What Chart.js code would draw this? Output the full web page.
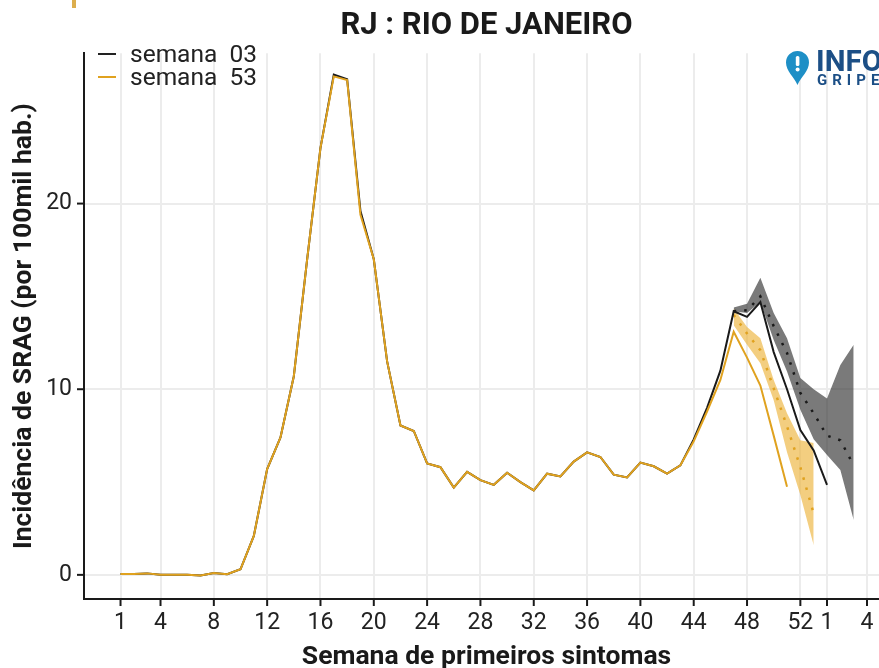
<!DOCTYPE html>
<html lang="pt-BR">
<head>
<meta charset="utf-8">
<title>RJ : RIO DE JANEIRO</title>
<script src="https://cdn.jsdelivr.net/npm/chart.js@4/dist/chart.umd.min.js"></script>
<style>
  html, body { margin: 0; padding: 0; background: #fff; overflow: hidden; width: 879px; height: 668px; }
  #wrap { position: relative; width: 879px; height: 668px; overflow: hidden; font-family: Roboto, sans-serif; }
  #myChart { position: absolute; left: 0; top: 0; }
  .leg-line { position: absolute; left: 98px; width: 18px; height: 2px; }
  .leg-text { position: absolute; left: 130px; font-size: 24.5px; line-height: 24px; color: #222; white-space: pre; }
  #pin { position: absolute; left: 785px; top: 50px; }
  #info { position: absolute; left: 816px; top: 44px; font-size: 29.5px; line-height: 34px; font-weight: 700; color: #1c4f86; white-space: nowrap; }
  #gripe { position: absolute; left: 817px; top: 72px; font-size: 15px; line-height: 16px; font-weight: 700; letter-spacing: 5px; color: #1c4f86; white-space: nowrap; }
  #topmark { position: absolute; left: 72px; top: 0; width: 4px; height: 8px; background: #dcae4e; }
</style>
</head>
<body>
<div id="wrap">
  <canvas id="myChart" width="889" height="668"></canvas>
  <div id="topmark"></div>
  <div class="leg-line" style="top:53px;background:#222"></div>
  <div class="leg-text" style="top:42px">semana  03</div>
  <div class="leg-line" style="top:76px;background:#e0a21f"></div>
  <div class="leg-text" style="top:65px">semana  53</div>
  <svg id="pin" width="25" height="36" viewBox="0 0 25 36">
    <path d="M12.5 35 C9 27 1 21 1 12.5 A11.5 11.5 0 0 1 24 12.5 C24 21 16 27 12.5 35 Z" fill="#1e8fc6"/>
    <rect x="10.8" y="6" width="3.6" height="10" rx="1.5" fill="#fff"/>
    <circle cx="12.6" cy="19.5" r="2" fill="#fff"/>
  </svg>
  <div id="info">INFO</div>
  <div id="gripe">GRIPE</div>
</div>
<script>
// semanas (53 = ultima de 2020, 54 em diante = 2021)
const weeks = [1,2,3,4,5,6,7,8,9,10,11,12,13,14,15,16,17,18,19,20,21,22,23,24,25,26,27,28,29,30,31,32,33,34,35,36,37,38,39,40,41,42,43,44,45,46,47,48,49,50,51,52,53,54,55,56];
const tickWeeks = [1,4,8,12,16,20,24,28,32,36,40,44,48,52,54,57];
const tickLabels = ['1','4','8','12','16','20','24','28','32','36','40','44','48','52','1','4'];
const yTicks = [0,10,20];

const semana03 = [0.05,0.05,0.08,0,0,0,-0.03,0.1,0.03,0.3,2.1,5.7,7.4,10.7,17,23,26.95,26.7,19.6,17,11.5,8.05,7.75,6,5.8,4.7,5.55,5.1,4.85,5.5,5,4.55,5.45,5.3,6.1,6.6,6.35,5.4,5.25,6.05,5.85,5.45,5.9,7.3,9,11,14.2,13.9,14.7,12,10,7.8,6.7,4.85];
const semana53 = [0.05,0.05,0.08,0,0,0,-0.03,0.1,0.03,0.3,2.1,5.7,7.4,10.7,17,23,26.85,26.65,19.4,17,11.5,8.05,7.75,6,5.8,4.7,5.55,5.1,4.85,5.5,5,4.55,5.45,5.3,6.1,6.6,6.35,5.4,5.25,6.05,5.85,5.45,5.9,7.2,8.8,10.5,13.1,11.7,10.2,7.5,4.75];

// previsao (nowcasting), comeca na semana 47
const nowWeeks03 = [47,48,49,50,51,52,53,54,55,56];
const now03 = [14.2,14.25,15,13.4,11.95,9.8,8.7,7.5,7.25,5.9];
const now03Upper = [14.4,14.6,16,14.1,12.75,10.6,10,9.5,11.3,12.4];
const now03Lower = [14.2,14.1,14.7,12.65,10.95,8.9,7.3,6.45,5.65,2.95];

const nowWeeks53 = [47,48,49,50,51,52,53];
const now53 = [14,13,12.1,10.05,8,5.8,3.3];
const now53Upper = [14.35,13.35,12.75,10.5,8.7,7.25,7.1];
const now53Lower = [13.45,12.4,11.4,9.4,6.6,4.3,1.6];

const toPoints = (xs, ys) => ys.map((y, i) => ({x: xs[i], y: y}));

const black = '#1a1a1a';
const gold = '#e0a21f';
const grid = '#ececec';

const ctx = document.getElementById('myChart').getContext('2d');
const myChart = new Chart(ctx, {
  type: 'line',
  data: {
    // o chart.js desenha do ultimo para o primeiro, a semana 53 fica por cima
    datasets: [
      {label: 'semana 53', data: toPoints(weeks, semana53), borderColor: gold, borderWidth: 2, fill: false},
      {label: 'semana 03', data: toPoints(weeks, semana03), borderColor: black, borderWidth: 2, fill: false},
      {label: 'previsao 53', data: toPoints(nowWeeks53, now53), borderColor: gold, borderWidth: 2.5, borderDash: [2.5, 8], fill: false},
      {label: 'previsao 03', data: toPoints(nowWeeks03, now03), borderColor: black, borderWidth: 2.5, borderDash: [2.5, 8], fill: false},
      {label: 'banda 53 sup', data: toPoints(nowWeeks53, now53Upper), borderWidth: 0, backgroundColor: 'rgba(236,180,60,0.65)', fill: '+1'},
      {label: 'banda 53 inf', data: toPoints(nowWeeks53, now53Lower), borderWidth: 0, fill: false},
      {label: 'banda 03 sup', data: toPoints(nowWeeks03, now03Upper), borderWidth: 0, backgroundColor: 'rgba(50,50,50,0.65)', fill: '+1'},
      {label: 'banda 03 inf', data: toPoints(nowWeeks03, now03Lower), borderWidth: 0, fill: false}
    ]
  },
  options: {
    responsive: false,
    animation: false,
    elements: {point: {radius: 0}, line: {tension: 0}},
    layout: {padding: {top: 0, left: 8, right: 0, bottom: 0}},
    plugins: {
      legend: {display: false},
      tooltip: {enabled: false},
      title: {
        display: true,
        text: 'RJ : RIO DE JANEIRO',
        fullSize: false,
        color: '#1a1a1a',
        font: {family: 'Roboto', size: 31, weight: '700', lineHeight: 1.2},
        padding: {top: 8, bottom: 8}
      }
    },
    scales: {
      x: {
        type: 'linear',
        min: -1.74,
        max: 58.65,
        afterBuildTicks: (axis) => { axis.ticks = tickWeeks.map(v => ({value: v})); },
        afterFit: (axis) => { axis.height = 69; },
        grid: {color: grid, lineWidth: 2, drawTicks: false},
        border: {color: black, width: 2},
        ticks: {
          autoSkip: false,
          maxRotation: 0,
          color: '#222',
          padding: 10,
          font: {family: 'Roboto', size: 23},
          callback: (value) => tickLabels[tickWeeks.indexOf(value)]
        },
        title: {
          display: true,
          text: 'Semana de primeiros sintomas',
          color: '#1a1a1a',
          font: {family: 'Roboto', size: 26.5, weight: '700'},
          padding: {top: 0, bottom: -5}
        }
      },
      y: {
        type: 'linear',
        min: -1.3,
        max: 28.1,
        afterBuildTicks: (axis) => { axis.ticks = yTicks.map(v => ({value: v})); },
        afterFit: (axis) => { axis.width = 76; },
        grid: {color: grid, lineWidth: 2, drawTicks: false},
        border: {color: black, width: 2},
        ticks: {
          color: '#222',
          padding: 12,
          font: {family: 'Roboto', size: 23}
        },
        title: {
          display: true,
          text: 'Incidência de SRAG (por 100mil hab.)',
          color: '#1a1a1a',
          font: {family: 'Roboto', size: 26.5, weight: '700'},
          padding: {top: 0, bottom: 0}
        }
      }
    }
  },
  plugins: [{
    // marquinhas dos eixos por fora da area do grafico
    id: 'axisTicks',
    afterDatasetsDraw(chart) {
      const c = chart.ctx, a = chart.chartArea, sx = chart.scales.x, sy = chart.scales.y;
      c.save();
      c.strokeStyle = black;
      c.lineWidth = 2;
      tickWeeks.forEach(v => {
        const p = sx.getPixelForValue(v);
        c.beginPath(); c.moveTo(p, a.bottom); c.lineTo(p, a.bottom + 7); c.stroke();
      });
      yTicks.forEach(v => {
        const p = sy.getPixelForValue(v);
        c.beginPath(); c.moveTo(a.left, p); c.lineTo(a.left - 7, p); c.stroke();
      });
      c.restore();
    }
  }]
});
</script>
</body>
</html>
